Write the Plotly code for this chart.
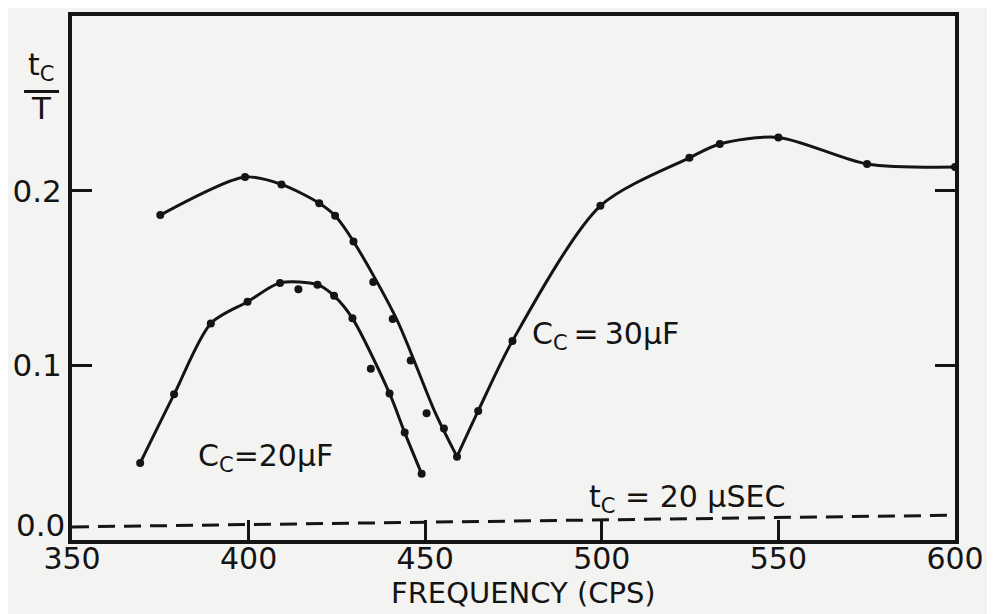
import plotly.graph_objects as go

# ---- data ----
# measured points, C_C = 30 uF
f30 = [375.0, 399.0, 409.3, 420.0, 424.5, 429.7, 435.3, 440.8, 445.9, 450.4, 455.3, 459.0,
       465.0, 474.7, 499.6, 524.8, 533.4, 550.0, 575.1, 600.0]
r30 = [0.1860, 0.2078, 0.2036, 0.1928, 0.1856, 0.1709, 0.1477, 0.1265, 0.1027, 0.0726, 0.0638, 0.0477,
       0.0739, 0.1140, 0.1913, 0.2188, 0.2267, 0.2305, 0.2153, 0.2135]
# faired curve, C_C = 30 uF (falling and rising branches)
c30_fall_f = [375.0, 399.0, 409.3, 420.0, 424.5, 429.7, 441.9, 452.9, 459.0]
c30_fall_r = [0.1860, 0.2078, 0.2036, 0.1928, 0.1856, 0.1709, 0.1265, 0.0726, 0.0477]
c30_rise_f = [459.0, 465.0, 474.7, 499.6, 524.8, 533.4, 550.0, 575.1, 600.0]
c30_rise_r = [0.0477, 0.0739, 0.1140, 0.1913, 0.2188, 0.2267, 0.2305, 0.2153, 0.2135]

# measured points, C_C = 20 uF
f20 = [369.3, 378.9, 389.3, 399.7, 408.9, 414.1, 419.5, 424.2, 429.4, 434.6, 439.9, 444.2, 449.0]
r20 = [0.0441, 0.0834, 0.1240, 0.1364, 0.1472, 0.1436, 0.1462, 0.1398, 0.1269, 0.0981, 0.0839, 0.0615, 0.0379]
# faired curve, C_C = 20 uF
c20_f = [369.3, 378.9, 389.3, 399.7, 408.9, 419.5, 424.2, 429.4, 439.9, 444.2, 449.0]
c20_r = [0.0441, 0.0834, 0.1240, 0.1364, 0.1472, 0.1462, 0.1398, 0.1269, 0.0839, 0.0615, 0.0379]

# t_c = 20 usec reference line
tc_f = [350, 600]
tc_r = [0.0075, 0.0142]

x_ticks = [350, 400, 450, 500, 550, 600]
y_ticks = [0.1, 0.2]
y_ticktext = ["0.1", "0.2"]

INK = "#141414"
BG = "#f3f3f1"
FONT = "DejaVu Sans"

fig = go.Figure()

line_style = dict(color=INK, width=3, shape="spline", smoothing=0.8)
for fx, fy in [(c30_fall_f, c30_fall_r), (c30_rise_f, c30_rise_r), (c20_f, c20_r)]:
    fig.add_trace(go.Scatter(x=fx, y=fy, mode="lines", line=line_style,
                             hoverinfo="skip", showlegend=False, cliponaxis=False))

for fx, fy in [(f30, r30), (f20, r20)]:
    fig.add_trace(go.Scatter(x=fx, y=fy, mode="markers",
                             marker=dict(color=INK, size=8),
                             showlegend=False, cliponaxis=False))

fig.add_trace(go.Scatter(x=tc_f, y=tc_r, mode="lines",
                         line=dict(color=INK, width=3, dash="17px,9px"),
                         showlegend=False, hoverinfo="skip"))

# the page body adds an 8 px margin, so the figure is 8 px smaller than the window
fig.update_layout(
    width=987, height=606,
    margin=dict(l=63, r=40, t=4, b=74),
    paper_bgcolor=BG, plot_bgcolor=BG,
    font=dict(family=FONT, color=INK, size=30),
    showlegend=False,
)

fig.update_xaxes(
    range=[350, 600], tickvals=x_ticks, ticktext=[str(v) for v in x_ticks],
    ticks="inside", ticklen=20, tickwidth=3, tickcolor=INK,
    showline=True, linewidth=4, linecolor=INK, mirror=True,
    showgrid=False, zeroline=False, ticklabelstandoff=-11,
    tickfont=dict(size=30, family=FONT, color=INK),
)
fig.update_yaxes(
    range=[0, 0.30], tickvals=y_ticks, ticktext=y_ticktext,
    ticks="inside", ticklen=20, tickwidth=3, tickcolor=INK,
    showline=True, linewidth=4, linecolor=INK, mirror="ticks",
    showgrid=False, zeroline=False,
    tickfont=dict(size=31, family=FONT, color=INK),
)

annotations = [
    # 0.0 label of the y axis (drawn slightly above the base line, as in the original)
    dict(text="0.0", xref="paper", yref="y", x=-0.006, y=0.0085,
         xanchor="right", yanchor="middle", showarrow=False,
         font=dict(size=31, family=FONT, color=INK)),
    # y-axis title  t_c / T
    dict(text="t<sub>C</sub>", xref="paper", yref="paper", x=-0.035, y=0.862,
         xanchor="center", yanchor="bottom", showarrow=False,
         font=dict(size=30, family=FONT, color=INK)),
    dict(text="T", xref="paper", yref="paper", x=-0.035, y=0.824,
         xanchor="center", yanchor="middle", showarrow=False,
         font=dict(size=31, family=FONT, color=INK)),
    # x-axis title
    dict(text="FREQUENCY (CPS)", xref="paper", yref="paper", x=0.511, y=-0.102,
         xanchor="center", yanchor="middle", showarrow=False,
         font=dict(size=29, family=FONT, color=INK)),
    # curve labels
    dict(text="C<sub>C</sub>=20μF", xref="x", yref="y", x=385.1, y=0.0475,
         xanchor="left", yanchor="middle", showarrow=False,
         font=dict(size=30, family=FONT, color=INK)),
    dict(text="C<sub>C</sub>\u2009=\u200930μF", xref="x", yref="y", x=479.8, y=0.1170,
         xanchor="left", yanchor="middle", showarrow=False,
         font=dict(size=30, family=FONT, color=INK)),
    dict(text="t<sub>C</sub> = 20 μSEC", xref="x", yref="y", x=495.9, y=0.0240,
         xanchor="left", yanchor="middle", showarrow=False,
         font=dict(size=30, family=FONT, color=INK)),
]
fig.update_layout(annotations=annotations)

# fraction bar of the y-axis title
fig.add_shape(type="line", xref="paper", yref="paper",
              x0=-0.0543, x1=-0.0147, y0=0.856, y1=0.856,
              line=dict(color=INK, width=3))

fig.write_html("out.html")
